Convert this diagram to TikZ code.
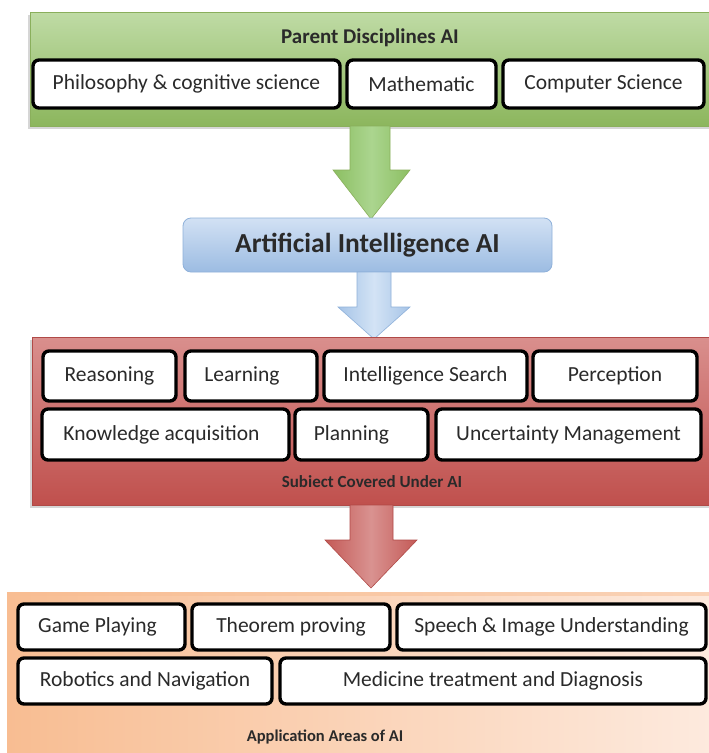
\documentclass[tikz,border=0pt]{standalone}
\usepackage{fontspec}
\setmainfont{Carlito}
\definecolor{txt}{HTML}{2A2A2A}
\definecolor{gtop}{HTML}{BFDBA5}
\definecolor{gbot}{HTML}{8CB65D}
\definecolor{gbrd}{HTML}{8AAF5C}
\definecolor{gar1}{HTML}{8CBF62}
\definecolor{gar2}{HTML}{ABD58F}
\definecolor{btop}{HTML}{D2E1F4}
\definecolor{bbot}{HTML}{9CBCE2}
\definecolor{bbrd}{HTML}{8FB1DA}
\definecolor{bar1}{HTML}{A6C4E7}
\definecolor{bar2}{HTML}{D3E3F5}
\definecolor{rtop}{HTML}{D98F8D}
\definecolor{rbot}{HTML}{C0504D}
\definecolor{rbrd}{HTML}{B04A47}
\definecolor{rar1}{HTML}{C45A57}
\definecolor{rar2}{HTML}{D99290}
\definecolor{otop}{HTML}{F8BD92}
\definecolor{obot}{HTML}{FDEADE}
\begin{document}
\begin{tikzpicture}[x=1pt,y=-1pt,
  wbox/.style 2 args={draw=black, line width=3.4pt, fill=white, rounded corners=6pt,
     minimum width=#1pt, minimum height=#2pt, inner sep=0pt, text=txt,
     font=\fontsize{21.5}{25}\selectfont},
  ptitle/.style={font=\bfseries, text=txt, inner sep=0pt},
  pshadow/.style={fill=black, opacity=0.16},
  garrow/.style={draw=gbrd, line width=0.6pt, left color=gar1, right color=gar1, middle color=gar2},
  barrow/.style={draw=bbrd, line width=0.6pt, left color=bar1, right color=bar1, middle color=bar2},
  rarrow/.style={draw=rbrd, line width=0.6pt, left color=rar1, right color=rar1, middle color=rar2}
]
\useasboundingbox (0,0) rectangle (709,753);
\fill[white] (0,0) rectangle (709,753);

% ---------- green panel ----------
\path[pshadow] (28,15) rectangle (712,129);
\path[draw=gbrd, line width=0.8pt, top color=gtop, bottom color=gbot] (30,12) rectangle (712,126);
\node[ptitle, font=\bfseries\fontsize{21}{24}\selectfont] (gtitle) at (370,38) {Parent Disciplines AI};
\node[wbox={307}{48}] (phil) at (186.5,84) {Philosophy \& cognitive science};
\node[wbox={149}{48}] (math) at (421.5,84) {Mathematic};
\node[wbox={201}{48}] (cs) at (603.5,84) {Computer Science};

% ---------- green arrow ----------
\path[garrow] (350,126) -- (390,126) -- (390,170) -- (410,170) -- (371,219) -- (333,170) -- (350,170) -- cycle;

% ---------- AI box ----------
\node[draw=bbrd, line width=0.8pt, rounded corners=8pt, top color=btop, bottom color=bbot,
      minimum width=369pt, minimum height=54pt, inner sep=0pt, text=txt,
      font=\bfseries\fontsize{27.5}{31}\selectfont] (ai) at (367.5,245) {Artificial Intelligence AI};

% ---------- blue arrow ----------
\path[barrow] (357,272) -- (391,272) -- (391,307) -- (410,307) -- (374,339) -- (338,307) -- (357,307) -- cycle;

% ---------- red panel ----------
\path[pshadow] (30,340) rectangle (712,508);
\path[draw=rbrd, line width=0.8pt, top color=rtop, bottom color=rbot] (32,337) rectangle (712,505);
\node[wbox={133}{50}] (reas) at (109.5,376) {Reasoning};
\node[wbox={132}{50}] (learn) at (251,376) {Learning\kern18pt};
\node[wbox={203}{50}] (isearch) at (425.5,376) {Intelligence Search};
\node[wbox={164}{50}] (perc) at (615,376) {Perception};
\node[wbox={247}{51}] (know) at (165.5,434.5) {Knowledge acquisition\kern8pt};
\node[wbox={133}{51}] (plan) at (361.5,434.5) {Planning\kern20pt};
\node[wbox={265}{51}] (unc) at (568.5,434.5) {Uncertainty Management};
\node[ptitle, font=\bfseries\fontsize{17}{20}\selectfont] (rtitle) at (372,482) {Subiect Covered Under AI};

% ---------- red arrow ----------
\path[rarrow] (350,505) -- (393,505) -- (393,540) -- (417,540) -- (371,588) -- (325,540) -- (350,540) -- cycle;

% ---------- orange panel ----------
\path[shading=axis, shading angle=135, left color=otop, right color=obot] (7,592) rectangle (712,756);
\path[fill=otop, opacity=0.5] (7,592) rectangle (712,596);
\node[wbox={167}{46}] (game) at (101.5,627) {Game Playing\kern8pt};
\node[wbox={198}{46}] (theo) at (291,627) {Theorem proving};
\node[wbox={309}{46}] (speech) at (551.5,627) {Speech \& Image Understanding};
\node[wbox={254}{46}] (robo) at (145,681) {Robotics and Navigation};
\node[wbox={426}{46}] (med) at (493,681) {Medicine treatment and Diagnosis};
\node[ptitle, font=\bfseries\fontsize{16.5}{20}\selectfont] (otitle) at (325,737) {Application Areas of AI};
\end{tikzpicture}
\end{document}
